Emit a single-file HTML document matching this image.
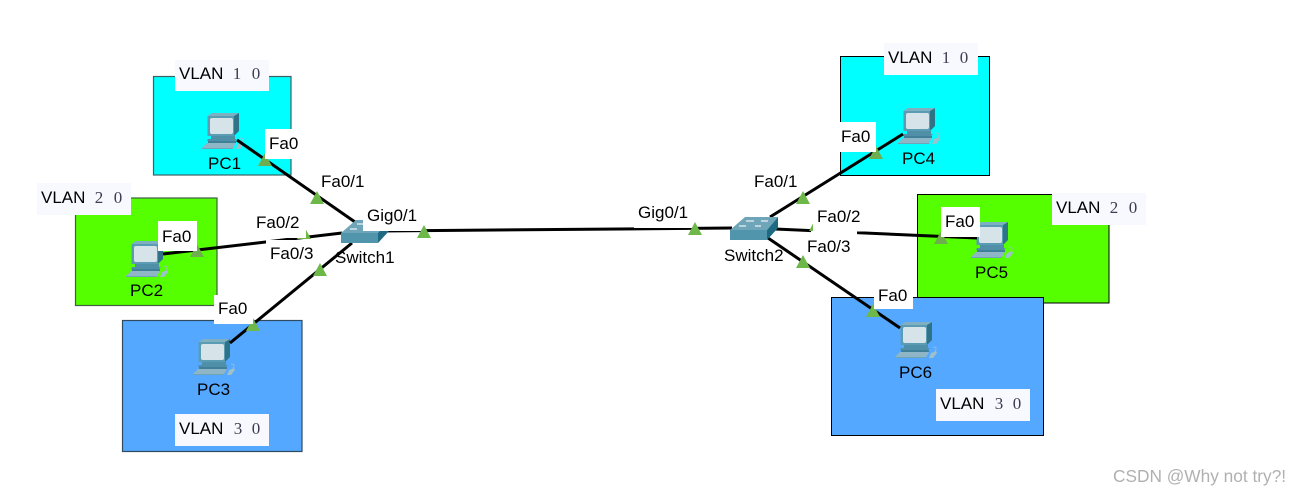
<!DOCTYPE html>
<html>
<head>
<meta charset="utf-8">
<style>
html,body{margin:0;padding:0;background:#fff;width:1304px;height:496px;overflow:hidden}
svg{display:block}
text{font-family:"Liberation Sans",sans-serif;font-size:17px;fill:#000}
.d{font-family:"Liberation Serif",serif;font-size:17px;fill:#3c3c50;text-anchor:middle}
.w{fill:#fff}
.v{fill:#f8f9ff}
.t{fill:#6eb84a}
.l{stroke:#000;stroke-width:3;fill:none}
</style>
</head>
<body>
<svg width="1304" height="496" viewBox="0 0 1304 496" xmlns="http://www.w3.org/2000/svg">
<defs>
<g id="pc">
  <polygon points="0.5,3 5,0 32,0 27,3" fill="#7fb0c2"/>
  <rect x="0.5" y="3" width="27" height="20" fill="#5a9cb4"/>
  <polygon points="27,3 32,0 32,18 27,23" fill="#2f7389"/>
  <rect x="3" y="5" width="23" height="16" rx="2" fill="#d6e4ea"/>
  <rect x="4" y="23" width="24" height="3" fill="#4f90a8"/>
  <polygon points="1,26 30,26 28,28 0,28" fill="#4f90a8"/>
  <rect x="1" y="28" width="28" height="2" fill="#3f8098"/>
  <polygon points="0,30 29,30 26,35 -5,35" fill="#8fb6c6"/>
  <polygon points="-5,35 26,35 26,36 -5,36" fill="#6fa3b6"/>
  <polygon points="31,31 36,29 37,31 33,36 29,36" fill="#9cc0cc"/>
  <path d="M35,29 Q38,25 33,25" fill="none" stroke="#9cc0cc" stroke-width="0.8"/>
</g>
<g id="sw">
  <polygon points="0,0 15,-13 48,-13 37,0" fill="#6fa5b8"/>
  <rect x="0" y="0" width="37" height="10" fill="#5195ad"/>
  <polygon points="37,0 48,-13 48,-2 37,10" fill="#1f6a83"/>
  <g stroke="#e4eef2" stroke-width="1.3">
    <line x1="16" y1="-9" x2="24" y2="-9"/>
    <line x1="31" y1="-9" x2="38" y2="-9"/>
    <line x1="9" y1="-4" x2="16" y2="-4"/>
    <line x1="25" y1="-4" x2="31" y2="-4"/>
  </g>
</g>
</defs>

<!-- VLAN areas -->
<rect x="153.5" y="76.5" width="137.5" height="98.5" fill="#00ffff" stroke="#3e6060" stroke-width="1.2"/>
<rect x="75.5" y="198" width="141.5" height="107.5" fill="#55ff00" stroke="#3e6040" stroke-width="1.2"/>
<rect x="122.5" y="320.5" width="179.5" height="131" fill="#55a8ff" stroke="#304a60" stroke-width="1.2"/>
<rect x="840.5" y="56.5" width="149" height="119" fill="#00ffff" stroke="#000" stroke-width="1"/>
<rect x="917.5" y="194.5" width="191.5" height="108.5" fill="#55ff00" stroke="#000" stroke-width="1"/>
<rect x="831.5" y="297.5" width="212" height="138" fill="#55a8ff" stroke="#000" stroke-width="1"/>

<!-- PCs under links -->
<use href="#pc" x="207" y="113"/>
<use href="#pc" x="131" y="241"/>
<use href="#pc" x="198" y="339"/>
<use href="#pc" x="903" y="108"/>
<use href="#pc" x="976" y="222"/>
<use href="#pc" x="900" y="322"/>

<!-- links -->
<line class="l" x1="237" y1="140" x2="355" y2="222"/>
<line class="l" x1="163" y1="254" x2="342" y2="233"/>
<line class="l" x1="230" y1="343" x2="352" y2="243"/>
<line class="l" x1="380" y1="231" x2="732" y2="228"/>
<line class="l" x1="770" y1="217" x2="903" y2="134"/>
<line class="l" x1="775" y1="229" x2="977" y2="238"/>
<line class="l" x1="768" y1="238" x2="900" y2="328"/>

<use href="#sw" x="341" y="233"/>
<use href="#sw" x="730" y="230"/>

<!-- link lights under labels -->
<polygon class="t" points="265,153 258,166 272,166" style="fill:#6fae4e"/>
<polygon class="t" points="197,244 190,257 204,257" style="fill:#6fae4e"/>
<polygon class="t" points="253,318 246,331 260,331"/>
<polygon class="t" points="304,226 297,239 311,239"/>
<polygon class="t" points="876,146 869,159 883,159" style="fill:#6fae4e"/>
<polygon class="t" points="941,231 934,244 948,244" style="fill:#6fae4e"/>
<polygon class="t" points="873,304 866,317 880,317"/>
<polygon class="t" points="816,218 809,231 823,231"/>

<!-- white label backs -->
<rect class="w" x="265" y="129" width="36" height="30"/>
<rect class="w" x="158" y="221" width="39" height="30"/>
<rect class="w" x="214" y="295" width="39" height="29"/>
<rect class="w" x="840" y="122" width="36" height="30"/>
<rect class="w" x="941" y="207" width="39" height="30"/>
<rect class="w" x="874" y="279" width="39" height="30"/>
<rect class="w" x="252" y="208" width="54" height="30"/>
<rect class="w" x="266" y="240" width="47" height="24"/>
<rect class="w" x="363" y="201" width="61" height="30"/>
<rect class="w" x="634" y="199" width="62" height="29"/>
<rect class="w" x="813" y="202" width="54" height="29.5"/>
<rect class="w" x="811" y="231" width="46" height="23"/>

<!-- visible link lights -->
<polygon class="t" points="317,191 310,204 324,204"/>
<polygon class="t" points="320,263 313,276 327,276"/>
<polygon class="t" points="424,225 417,238 431,238"/>
<polygon class="t" points="695,222 688,235 702,235"/>
<polygon class="t" points="803,191 796,204 810,204"/>
<polygon class="t" points="803,255 796,268 810,268"/>

<!-- VLAN labels -->
<rect class="v" x="175" y="60" width="94" height="31"/>
<rect class="v" x="37" y="183" width="94" height="32"/>
<rect class="v" x="175" y="414" width="94" height="32"/>
<rect class="v" x="884" y="43" width="94" height="32"/>
<rect class="v" x="1052" y="193" width="94" height="32"/>
<rect class="v" x="936" y="389" width="94" height="32"/>

<text x="179" y="79">VLAN</text><text class="d" x="237" y="79">1</text><text class="d" x="256" y="79">0</text>
<text x="41" y="203">VLAN</text><text class="d" x="99" y="203">2</text><text class="d" x="118" y="203">0</text>
<text x="179" y="434">VLAN</text><text class="d" x="238" y="434">3</text><text class="d" x="256" y="434">0</text>
<text x="888" y="63">VLAN</text><text class="d" x="946" y="63">1</text><text class="d" x="964" y="63">0</text>
<text x="1056" y="213">VLAN</text><text class="d" x="1114" y="213">2</text><text class="d" x="1133" y="213">0</text>
<text x="940" y="409">VLAN</text><text class="d" x="999" y="409">3</text><text class="d" x="1017" y="409">0</text>

<!-- device names -->
<text x="208" y="169">PC1</text>
<text x="130" y="296">PC2</text>
<text x="197" y="395">PC3</text>
<text x="902" y="164">PC4</text>
<text x="975" y="278">PC5</text>
<text x="899" y="378">PC6</text>
<text x="335" y="263">Switch1</text>
<text x="724" y="261">Switch2</text>

<!-- port names -->
<text x="269" y="149">Fa0</text>
<text x="162" y="242">Fa0</text>
<text x="218" y="314">Fa0</text>
<text x="841" y="142">Fa0</text>
<text x="945" y="227">Fa0</text>
<text x="878" y="301">Fa0</text>
<text x="321" y="187">Fa0/1</text>
<text x="256" y="228">Fa0/2</text>
<text x="270" y="259">Fa0/3</text>
<text x="367" y="221">Gig0/1</text>
<text x="638" y="218">Gig0/1</text>
<text x="754" y="187">Fa0/1</text>
<text x="817" y="222">Fa0/2</text>
<text x="807" y="252">Fa0/3</text>

<text x="1113" y="482" style="font-size:17.3px;fill:#b0b0b0">CSDN @Why not try?!</text>
</svg>
</body>
</html>
